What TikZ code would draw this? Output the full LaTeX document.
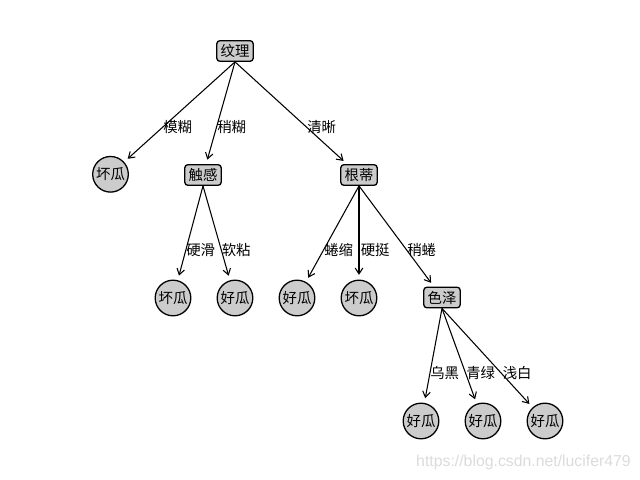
\documentclass[tikz,border=0pt]{standalone}
\usepackage{fontspec}
\newfontfamily\cjk{Noto Sans CJK SC}
\newfontfamily\wmfont{Liberation Sans}
\usetikzlibrary{arrows.meta,positioning}
\definecolor{nodegray}{gray}{0.8}
\definecolor{wmgray}{gray}{0.86}

\begin{document}
\begin{tikzpicture}[x=0.03cm,y=-0.03cm]
            \tikzset{every node/.style={font=\cjk\fontsize{12.3pt}{14pt}\selectfont},
                decision/.style={draw, rounded corners=2.5pt, fill=nodegray, line width=1.1pt, minimum width=31pt, minimum height=17.5pt, inner sep=1pt},
                leaf/.style={draw, circle, fill=nodegray, line width=1.1pt, minimum size=30.4pt, inner sep=0pt},
                lbl/.style={anchor=west, inner sep=0.5pt},
                arr/.style={-{Straight Barb[length=5pt,width=6.5pt]}, line width=0.9pt, shorten >=4pt}}
            \useasboundingbox (0,0) rectangle (640,480);
            % decision nodes
            \node[decision] (wenli) at (235,51) {纹理};
            \node[decision] (chugan) at (203,175) {触感};
            \node[decision] (gendi) at (359,175) {根蒂};
            \node[decision] (seze) at (442,297.5) {色泽};
            % leaves
            \node[leaf] (huai1) at (110.5,174.3) {坏瓜};
            \node[leaf] (huai2) at (173,298) {坏瓜};
            \node[leaf] (hao1) at (235,298) {好瓜};
            \node[leaf] (hao2) at (297,298) {好瓜};
            \node[leaf] (huai3) at (359,298) {坏瓜};
            \node[leaf] (hao3) at (421,421) {好瓜};
            \node[leaf] (hao4) at (483,421) {好瓜};
            \node[leaf] (hao5) at (545,421) {好瓜};
            % branches
            \draw[arr] (wenli.south) -- (huai1);
            \draw[arr] (wenli.south) -- (chugan);
            \draw[arr] (wenli.south) -- (gendi);
            \draw[arr] (chugan.south) -- (huai2);
            \draw[arr] (chugan.south) -- (hao1);
            \draw[arr] (gendi.south) -- (hao2);
            \draw[arr] (gendi.south) -- (huai3);
            \draw[arr] (gendi.south) -- (seze);
            \draw[arr] (seze.south) -- (hao3);
            \draw[arr] (seze.south) -- (hao4);
            \draw[arr] (seze.south) -- (hao5);
            % branch labels
            \node[lbl] (mohu) at (162.5,127) {模糊};
            \node[lbl] (shaohu) at (216.5,127) {稍糊};
            \node[lbl] (qingxi) at (306.5,127) {清晰};
            \node[lbl] (yinghua) at (185.5,250) {硬滑};
            \node[lbl] (ruannian) at (221,250) {软粘};
            \node[lbl] (quansuo) at (323.5,250) {蜷缩};
            \node[lbl] (yingting) at (360,250) {硬挺};
            \node[lbl] (shaoquan) at (406.5,250) {稍蜷};
            \node[lbl] (wuhei) at (429.5,373) {乌黑};
            \node[lbl] (qinglv) at (465.5,373) {青绿};
            \node[lbl] (qianbai) at (502,373) {浅白};
            % watermark
            \node[anchor=east, inner sep=0pt, text=wmgray, font=\wmfont\fontsize{13.5pt}{15pt}\selectfont] (wm) at (631,462) {https://blog.csdn.net/lucifer479};
        \end{tikzpicture}
\end{document}
